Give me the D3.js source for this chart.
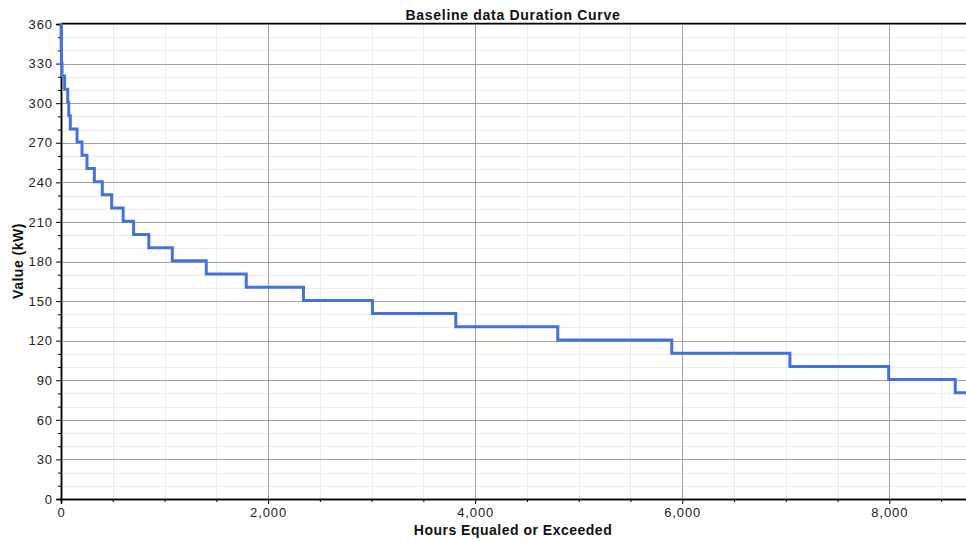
<!DOCTYPE html>
<html>
<head>
<meta charset="utf-8">
<script src="https://cdn.jsdelivr.net/npm/d3@7/dist/d3.min.js"></script>
<style>
  html, body { margin: 0; padding: 0; background: #fff; overflow: hidden; }
  svg { display: block; font-family: "Liberation Sans", Arial, sans-serif; }
</style>
</head>
<body>
<svg id="chart" width="966" height="542"></svg>
<script>
// Duration curve: each step holds a value (kW) until the hour count where it ends.
const stepValues = [360, 350, 340, 330.5, 320.5, 310.5, 300.5, 290.5, 280.5, 270.5, 260.5, 250.5, 240.5, 230.5, 220.5, 210.5, 200.5, 190.5, 180.5, 170.5, 160.5, 150.5, 140.5, 130.5, 120.5, 110.5, 100.5, 90.5, 80.5];
const stepEndHours = [1, 2, 4, 10, 35, 65, 75, 90, 155, 203, 251, 322, 399, 489, 600, 701, 848, 1075, 1403, 1789, 2342, 3008, 3813, 4798, 5899, 7040, 7994, 8637, 8760];
const yTicks = [0, 30, 60, 90, 120, 150, 180, 210, 240, 270, 300, 330, 360];
const xTicks = [0, 2000, 4000, 6000, 8000];

const svg = d3.select("#chart");
const plotLeft = 61, plotRight = 968, plotTop = 24, plotBottom = 499;
const fontFamily = "\"Liberation Sans\", Arial, sans-serif";

const x = d3.scaleLinear().domain([0, 8760]).range([plotLeft, plotRight]);
const y = d3.scaleLinear().domain([0, 360]).range([plotBottom, plotTop]);

// Minor grid
const g = svg.append("g");
g.selectAll(".ymin").data(d3.range(0, 361, 10)).join("line")
  .attr("x1", plotLeft).attr("x2", plotRight)
  .attr("y1", d => Math.round(y(d)) + 0.5).attr("y2", d => Math.round(y(d)) + 0.5)
  .attr("stroke", "#ececec").attr("stroke-width", 1);
g.selectAll(".xmin").data(d3.range(0, 8761, 500)).join("line")
  .attr("y1", plotTop).attr("y2", plotBottom)
  .attr("x1", d => Math.round(x(d)) + 0.5).attr("x2", d => Math.round(x(d)) + 0.5)
  .attr("stroke", "#ececec").attr("stroke-width", 1);
// Major grid
g.selectAll(".ymaj").data(yTicks).join("line")
  .attr("x1", plotLeft).attr("x2", plotRight)
  .attr("y1", d => Math.round(y(d)) + 0.5).attr("y2", d => Math.round(y(d)) + 0.5)
  .attr("stroke", "#a3a3a3").attr("stroke-width", 1);
g.selectAll(".xmaj").data(xTicks).join("line")
  .attr("y1", plotTop).attr("y2", plotBottom)
  .attr("x1", d => Math.round(x(d)) + 0.5).attr("x2", d => Math.round(x(d)) + 0.5)
  .attr("stroke", "#a3a3a3").attr("stroke-width", 1);

// Frame top
svg.append("line").attr("x1", plotLeft).attr("x2", plotRight)
  .attr("y1", plotTop - 0.5).attr("y2", plotTop - 0.5)
  .attr("stroke", "#000").attr("stroke-width", 1.5);

// Axes
const yAxis = svg.append("g").attr("transform", `translate(${plotLeft},0)`)
  .call(d3.axisLeft(y).tickValues(yTicks).tickSize(5).tickPadding(3));
const yMinor = svg.append("g").attr("transform", `translate(${plotLeft},0)`)
  .call(d3.axisLeft(y).tickValues(d3.range(0, 361, 10).filter(v => v % 30 !== 0)).tickSize(3).tickFormat(""));
const xAxis = svg.append("g").attr("transform", `translate(0,${plotBottom})`)
  .call(d3.axisBottom(x).tickValues(xTicks).tickSize(5).tickPadding(4).tickFormat(d3.format(",")));
const xMinor = svg.append("g").attr("transform", `translate(0,${plotBottom})`)
  .call(d3.axisBottom(x).tickValues(d3.range(500, 8761, 500).filter(v => v % 2000 !== 0)).tickSize(3).tickFormat(""));

[yAxis, yMinor, xAxis, xMinor].forEach(a => {
  a.select(".domain").attr("stroke", "#000").attr("stroke-width", 1.5);
  a.selectAll(".tick line").attr("stroke", "#000");
  a.selectAll("text").attr("font-size", 13).attr("fill", "#222")
    .attr("letter-spacing", "0.9px")
    .attr("font-family", fontFamily);
});

// Step line, drawn above the axes
const pts = [];
let prev = 0;
stepValues.forEach((v, i) => {
  pts.push([prev, v]);
  pts.push([stepEndHours[i], v]);
  prev = stepEndHours[i];
});
svg.append("path")
  .datum(pts)
  .attr("fill", "none")
  .attr("stroke", "#4273dc")
  .attr("stroke-width", 3)
  .attr("stroke-linejoin", "miter")
  .attr("d", d3.line().x(d => x(d[0])).y(d => y(d[1])));

// Titles
svg.append("text").attr("x", 513).attr("y", 20).attr("text-anchor", "middle")
  .attr("font-size", 14).attr("font-weight", "bold").attr("fill", "#111")
  .attr("letter-spacing", "0.7px")
  .text("Baseline data Duration Curve");
svg.append("text").attr("x", 513).attr("y", 535).attr("text-anchor", "middle")
  .attr("font-size", 14).attr("font-weight", "bold").attr("fill", "#111")
  .attr("letter-spacing", "0.5px")
  .text("Hours Equaled or Exceeded");
svg.append("text").attr("transform", "translate(23,261) rotate(-90)")
  .attr("text-anchor", "middle")
  .attr("font-size", 14).attr("font-weight", "bold").attr("fill", "#111")
  .attr("letter-spacing", "0.5px")
  .text("Value (kW)");
</script>
</body>
</html>
